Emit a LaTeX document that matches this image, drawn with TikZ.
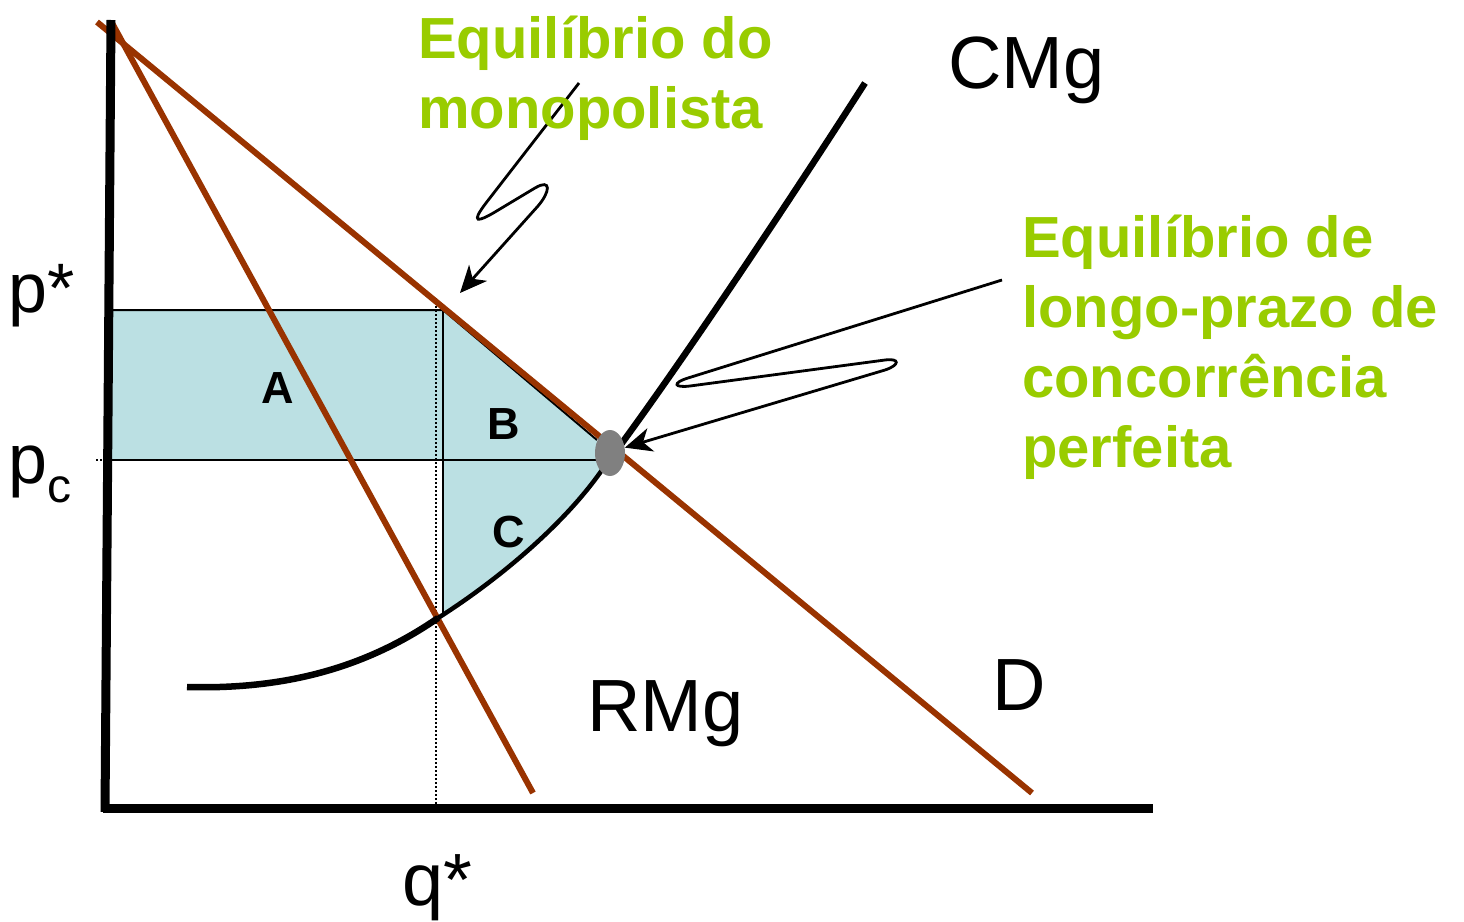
\documentclass[tikz,border=0pt]{standalone}
\usepackage{fontspec}
\setmainfont{Liberation Sans}
\usetikzlibrary{arrows.meta,shapes.geometric}
\definecolor{demandbrown}{HTML}{993300}
\definecolor{labelgreen}{HTML}{99CC00}
\definecolor{areablue}{HTML}{BBE0E3}
\definecolor{eqgray}{HTML}{808080}
\tikzset{
  axisline/.style={line width=9pt},
  revline/.style={line width=6pt, draw=demandbrown},
  costline/.style={line width=6.5pt},
  guide/.style={line width=2pt},
  dotguide/.style={line width=2pt, dotted},
  callout/.style={line width=2.8pt, -{Stealth[length=27pt, width=24pt, inset=8pt]}},
  greenlabel/.style={font=\bfseries\fontsize{58}{70}\selectfont, text=labelgreen, anchor=base west, align=left, inner sep=0pt},
  axislabel/.style={font=\fontsize{74}{74}\selectfont, anchor=base west, inner sep=0pt},
  arealabel/.style={font=\bfseries\fontsize{45}{45}\selectfont, inner sep=0pt},
}

\begin{document}
\begin{tikzpicture}[x=1pt, y=-1pt]
  \useasboundingbox (0,0) rectangle (1464,921);

  % key points
  \coordinate (dtop) at (97,22);
  \coordinate (dend) at (1032,793);
  \coordinate (rtop) at (112,23);
  \coordinate (rend) at (533,793);
  \coordinate (mono) at (443,310);
  \coordinate (qmono) at (443,616);
  \coordinate (monotip) at (460,293);

  % welfare areas A, B, C
  \fill[areablue] (112,310) -- (mono) -- (597,440) -- (602,470)
    .. controls (560,530) and (490,585) .. (438,618) -- (qmono) -- (443,460) -- (112,460) -- cycle;
  \draw[guide] (112,310) -- (mono) -- (597,440);
  \draw[guide] (mono) -- (qmono);
  \draw[guide] (112,460) -- (600,460);

  % dotted guides
  \draw[dotguide] (436,298) -- (436,806);
  \draw[dotguide] (96,460) -- (106,460);

  % demand and marginal revenue
  \draw[revline] (dtop) -- (dend);
  \draw[revline] (rtop) -- (rend);

  % marginal cost
  \draw[costline] (187,687) .. controls (290,690) and (370,665) .. (438,618);
  \draw[costline, line width=4.5pt] (438,618) .. controls (490,585) and (560,530) .. (602,470) -- (622,443);
  \draw[costline] (618,448) -- (622,443) .. controls (690,350) and (790,200) .. (865,83);

  % axes
  \draw[axisline] (111,20) -- (105,812);
  \draw[axisline] (103,808) -- (1153,808);

  % long-run competitive equilibrium
  \node[ellipse, fill=eqgray, minimum width=30pt, minimum height=46pt, inner sep=0pt] (lrcomp) at (610,453) {};

  % callout arrows
  \draw[callout] (579,83) -- (486,203) .. controls (470,224) and (478,222) .. (495,212)
    -- (535,188) .. controls (552,178) and (550,192) .. (538,206) -- (monotip);
  \draw[callout] (1002,280) -- (688,378) .. controls (672,383) and (674,388) .. (690,386)
    -- (885,360) .. controls (900,358) and (900,365) .. (885,370) -- (lrcomp.20);

  % labels
  \node[greenlabel] (monolbl) at (418,128) {Equilíbrio do\\monopolista};
  \node[greenlabel] (complbl) at (1022,467) {Equilíbrio de\\longo-prazo de\\concorrência\\perfeita};
  \node[axislabel] (cmglbl) at (948,88) {CMg};
  \node[axislabel] (rmglbl) at (587,731) {RMg};
  \node[axislabel] (dlbl) at (992,710) {D};
  \node[axislabel, font=\fontsize{70}{70}\selectfont] (pstarlbl) at (8,312) {p*};
  \node[axislabel, font=\fontsize{70}{70}\selectfont] (pclbl) at (8,483) {p\raisebox{-19pt}{\fontsize{48}{48}\selectfont c}};
  \node[axislabel] (qstarlbl) at (402,905) {q*};
  \node[arealabel] (albl) at (278,388) {A};
  \node[arealabel] (blbl) at (504,424) {B};
  \node[arealabel] (clbl) at (509,532) {C};
\end{tikzpicture}
\end{document}
